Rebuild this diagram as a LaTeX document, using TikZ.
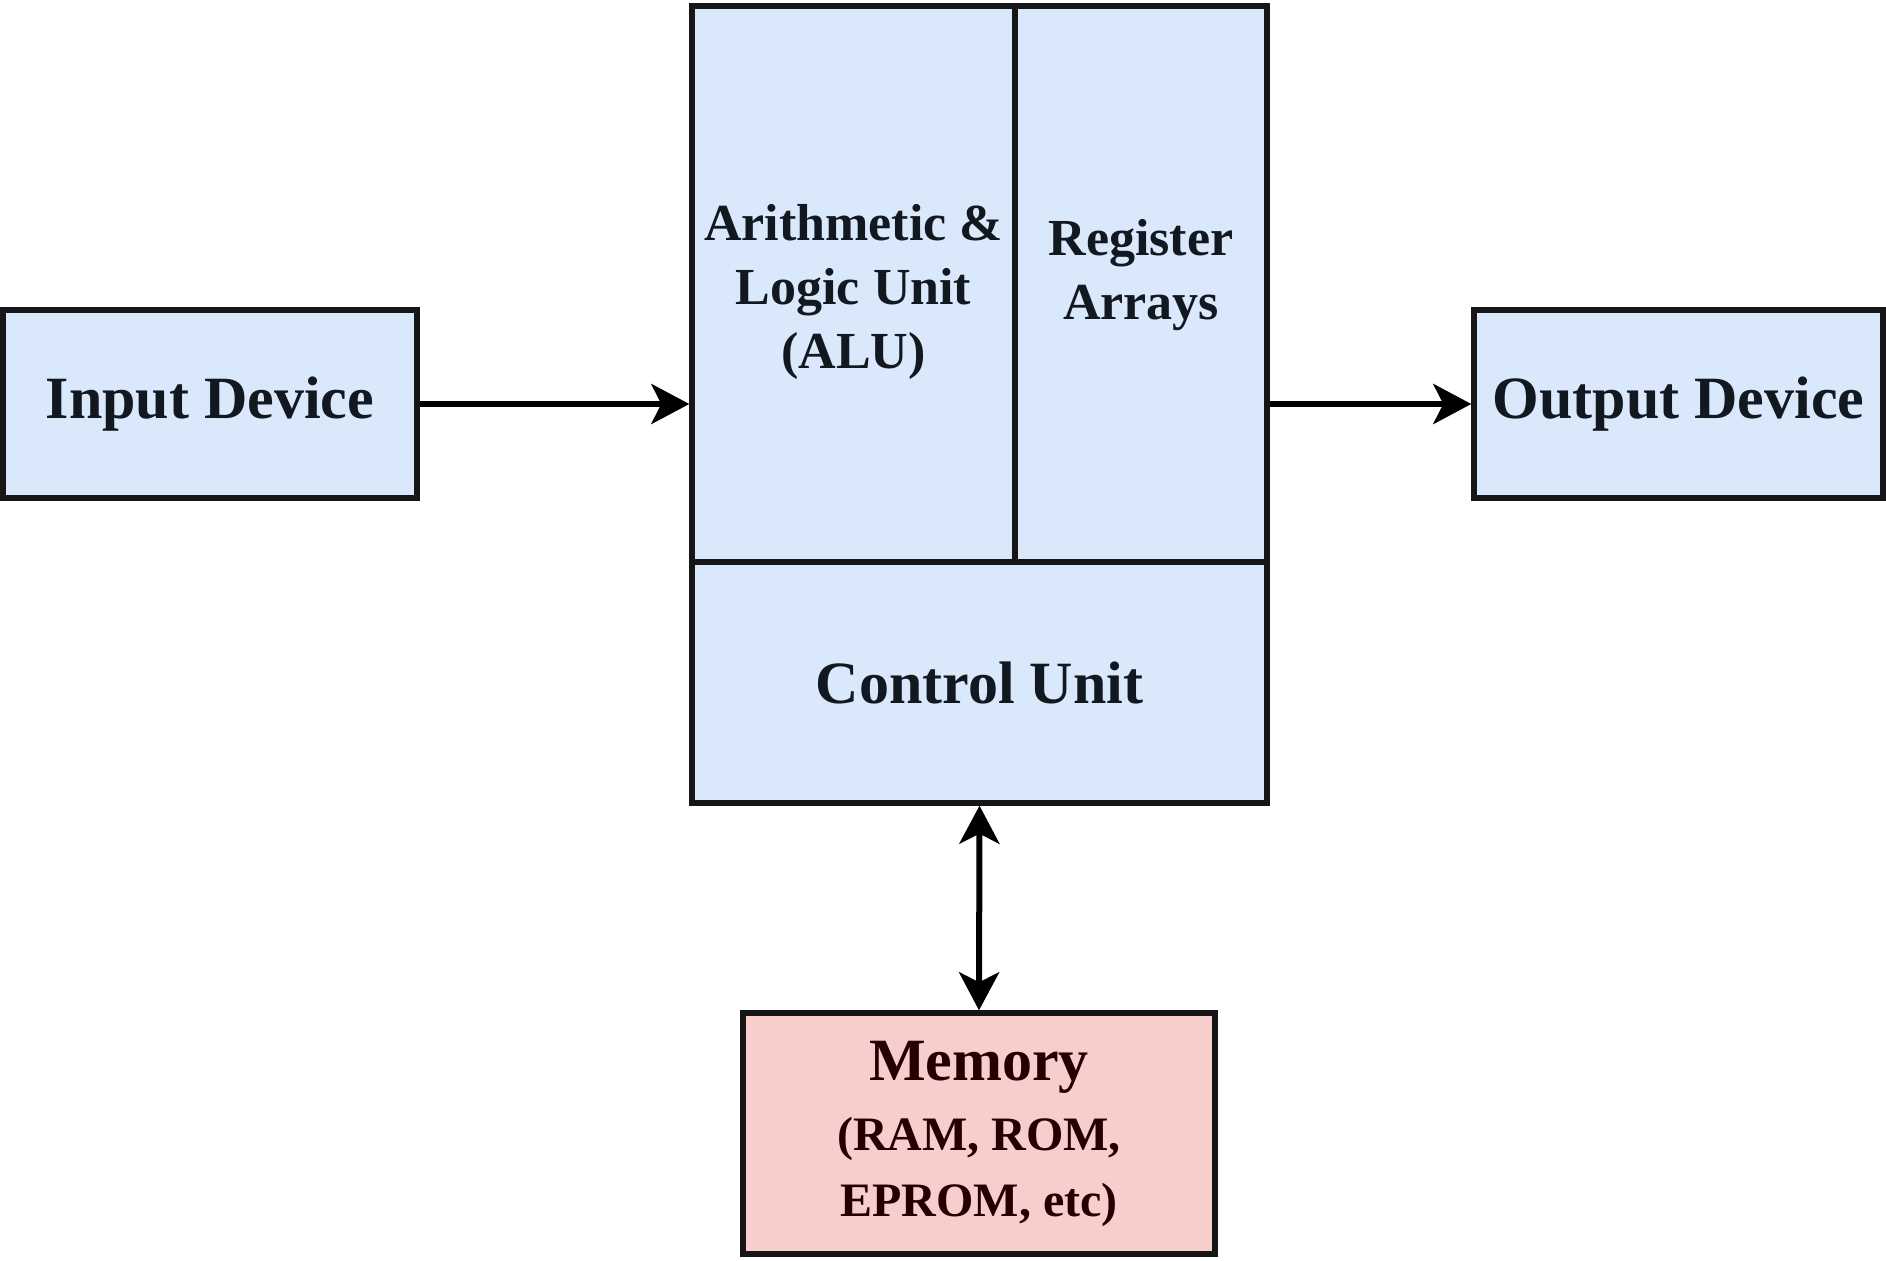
\documentclass[tikz,border=0pt]{standalone}
\usepackage{fontspec}
\setmainfont{Liberation Serif}
\usetikzlibrary{arrows.meta}
\definecolor{boxblue}{HTML}{DAE8FC}
\definecolor{boxpink}{HTML}{F8CECC}
\definecolor{edgecol}{HTML}{161616}
\definecolor{txtcol}{HTML}{121820}
\tikzset{
  unitbox/.style={draw=edgecol, line width=2.7pt, fill=boxblue, inner sep=0pt,
    align=center, text=txtcol, font=\bfseries\fontsize{30}{36}\selectfont},
  membox/.style={unitbox, fill=boxpink, text=black!85!red},
  conn/.style={draw=black, line width=3pt, -{Stealth[length=19pt,width=20pt,inset=5pt]}},
  conn2/.style={draw=black, line width=3pt, {Stealth[length=19pt,width=20pt,inset=5pt]}-{Stealth[length=19pt,width=20pt,inset=5pt]}}
}
\begin{document}
\begin{tikzpicture}[x=0.5pt,y=-0.5pt]
\useasboundingbox (0,0) rectangle (1886,1261);
\node[unitbox, minimum width=207pt, minimum height=94pt] (in) at (210,404) {Input Device};
\node[unitbox, minimum width=204.5pt, minimum height=94pt] (out) at (1678.5,404) {Output Device};
\node[unitbox, minimum width=161.5pt, minimum height=278pt, font=\bfseries\fontsize{26}{32}\selectfont] (alu) at (853.5,284) {\mbox{}\\[-6pt]Arithmetic \&\\Logic Unit\\(ALU)};
\node[unitbox, minimum width=126pt, minimum height=278pt, font=\bfseries\fontsize{26}{32}\selectfont] (reg) at (1141,284) {Register\\Arrays\\[-17pt]\mbox{}};
\node[unitbox, minimum width=287.5pt, minimum height=120.5pt] (cu) at (979.5,682.5) {Control Unit};
\node[membox, minimum width=236pt, minimum height=120.5pt, font=\bfseries\fontsize{24}{33}\selectfont] (mem) at (979,1133.5) {{\fontsize{30}{36}\selectfont Memory}\\[2pt](RAM, ROM,\\EPROM, etc)};
\draw[conn] (in.east) -- (in.east -| alu.west);
\draw[conn] (out.west -| reg.east) -- (out.west);
\draw[conn2] (cu.south) -- (mem.north);
\end{tikzpicture}
\end{document}
